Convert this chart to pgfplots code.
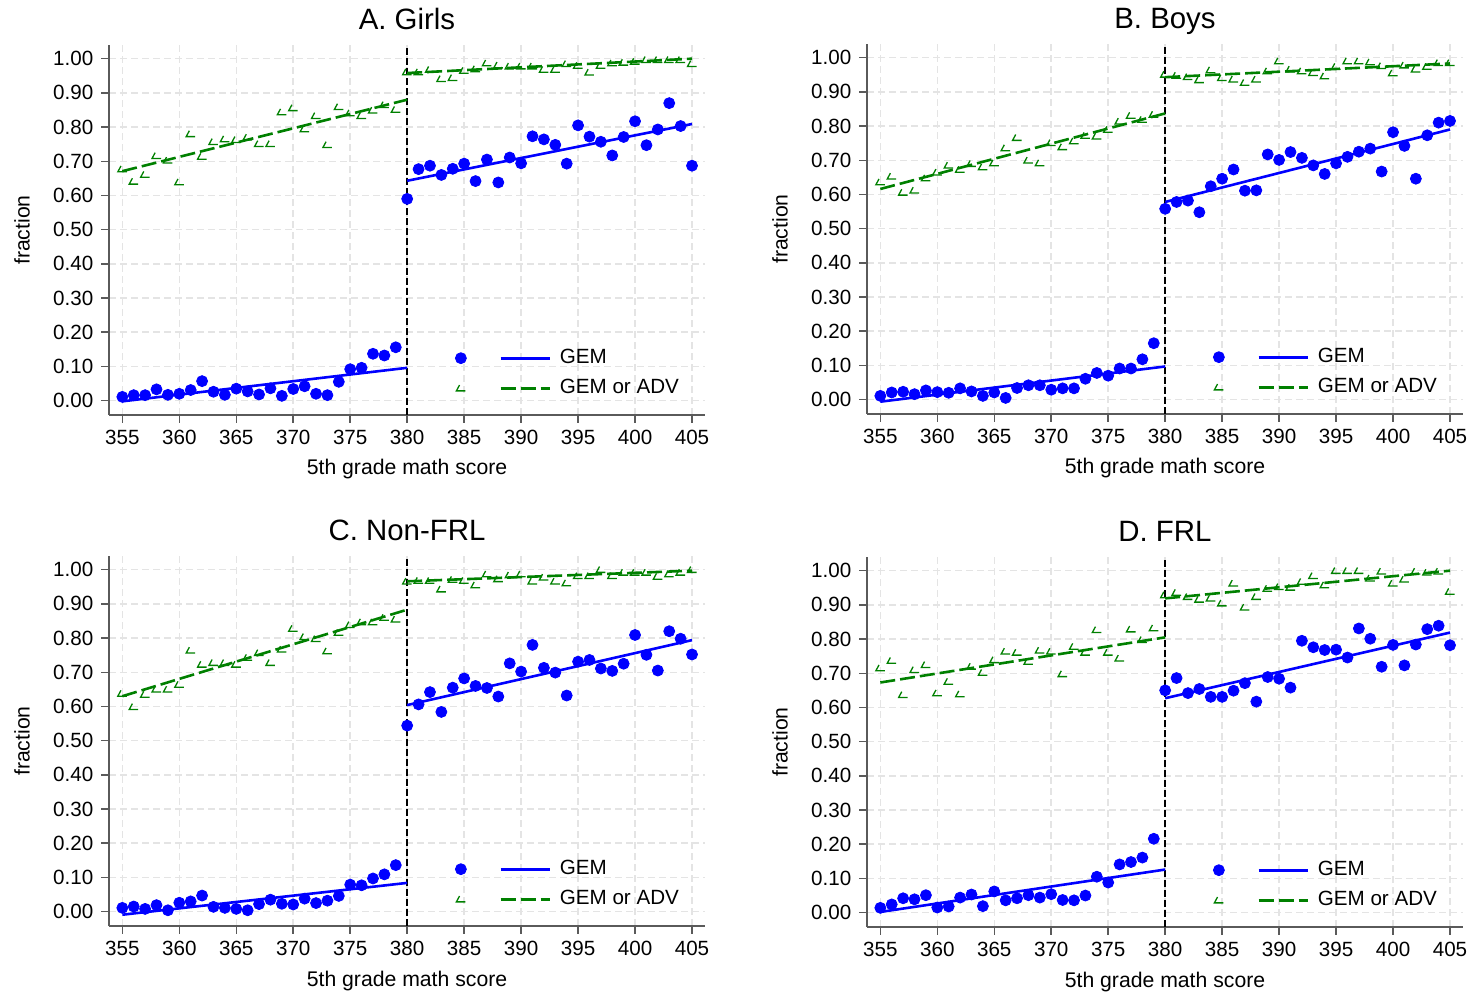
\documentclass[border=0pt]{standalone}
\usepackage{fontspec}
\setmainfont{Liberation Sans}
\usepackage{pgfplots}
\usepackage{pgfplotstable}
\pgfplotsset{compat=1.18}
\definecolor{gemgreen}{RGB}{0,128,0}
\definecolor{axgray}{RGB}{90,90,90}
\definecolor{gridgray}{RGB}{228,228,228}

\pgfdeclareplotmark{ang}{%
  \pgfpathmoveto{\pgfqpoint{-0.3\pgfplotmarksize}{0.7\pgfplotmarksize}}%
  \pgfpathlineto{\pgfqpoint{-1\pgfplotmarksize}{-0.6\pgfplotmarksize}}%
  \pgfpathlineto{\pgfqpoint{1\pgfplotmarksize}{-0.6\pgfplotmarksize}}%
  \pgfusepathqstroke}

\pgfplotstableread{
x b g
355 0.011 0.677
356 0.016 0.641
357 0.016 0.661
358 0.033 0.716
359 0.017 0.703
360 0.020 0.639
361 0.031 0.780
362 0.057 0.714
363 0.026 0.757
364 0.017 0.765
365 0.035 0.763
366 0.027 0.770
367 0.018 0.751
368 0.036 0.751
369 0.014 0.844
370 0.034 0.856
371 0.042 0.794
372 0.020 0.833
373 0.016 0.748
374 0.055 0.859
375 0.092 0.841
376 0.096 0.833
377 0.137 0.849
378 0.132 0.865
379 0.156 0.851
380 0.590 0.961
381 0.677 0.961
382 0.687 0.968
383 0.660 0.941
384 0.678 0.944
385 0.693 0.965
386 0.642 0.970
387 0.705 0.987
388 0.638 0.981
389 0.711 0.978
390 0.694 0.978
391 0.773 0.978
392 0.764 0.968
393 0.748 0.968
394 0.693 0.985
395 0.805 0.980
396 0.772 0.960
397 0.757 0.980
398 0.717 0.987
399 0.771 0.989
400 0.817 0.992
401 0.747 0.997
402 0.793 0.997
403 0.870 0.997
404 0.803 0.997
405 0.687 0.985
}\tabA

\pgfplotstableread{
x b g
355 0.011 0.636
356 0.021 0.653
357 0.023 0.606
358 0.016 0.612
359 0.027 0.648
360 0.022 0.665
361 0.020 0.685
362 0.033 0.673
363 0.024 0.690
364 0.011 0.680
365 0.021 0.692
366 0.005 0.736
367 0.034 0.766
368 0.042 0.700
369 0.042 0.692
370 0.029 0.751
371 0.033 0.739
372 0.033 0.756
373 0.061 0.772
374 0.078 0.770
375 0.070 0.790
376 0.091 0.814
377 0.091 0.831
378 0.118 0.819
379 0.165 0.834
380 0.558 0.951
381 0.578 0.948
382 0.582 0.944
383 0.548 0.935
384 0.624 0.964
385 0.646 0.941
386 0.673 0.937
387 0.611 0.927
388 0.612 0.937
389 0.717 0.961
390 0.701 0.990
391 0.724 0.966
392 0.707 0.961
393 0.685 0.956
394 0.660 0.946
395 0.691 0.974
396 0.710 0.990
397 0.725 0.990
398 0.734 0.987
399 0.667 0.976
400 0.782 0.955
401 0.742 0.978
402 0.646 0.966
403 0.773 0.974
404 0.810 0.985
405 0.815 0.985
}\tabB

\pgfplotstableread{
x b g
355 0.011 0.638
356 0.015 0.599
357 0.008 0.635
358 0.019 0.650
359 0.004 0.650
360 0.026 0.664
361 0.030 0.764
362 0.047 0.723
363 0.014 0.728
364 0.011 0.728
365 0.008 0.723
366 0.004 0.743
367 0.022 0.757
368 0.035 0.728
369 0.023 0.767
370 0.021 0.828
371 0.038 0.804
372 0.025 0.798
373 0.032 0.762
374 0.046 0.816
375 0.079 0.839
376 0.077 0.847
377 0.097 0.847
378 0.109 0.860
379 0.136 0.855
380 0.544 0.966
381 0.606 0.968
382 0.642 0.968
383 0.584 0.943
384 0.655 0.971
385 0.682 0.968
386 0.660 0.955
387 0.654 0.987
388 0.629 0.973
389 0.726 0.984
390 0.702 0.987
391 0.780 0.966
392 0.713 0.978
393 0.699 0.966
394 0.632 0.961
395 0.731 0.982
396 0.736 0.982
397 0.711 1.000
398 0.704 0.982
399 0.725 0.992
400 0.809 0.992
401 0.751 0.992
402 0.705 0.980
403 0.820 0.987
404 0.798 0.992
405 0.752 1.000
}\tabC

\pgfplotstableread{
x b g
355 0.014 0.715
356 0.024 0.737
357 0.042 0.637
358 0.039 0.710
359 0.051 0.725
360 0.015 0.642
361 0.018 0.676
362 0.044 0.639
363 0.053 0.720
364 0.019 0.702
365 0.062 0.739
366 0.036 0.764
367 0.042 0.761
368 0.051 0.734
369 0.044 0.767
370 0.054 0.764
371 0.037 0.698
372 0.036 0.778
373 0.050 0.761
374 0.105 0.827
375 0.088 0.761
376 0.141 0.744
377 0.148 0.829
378 0.161 0.798
379 0.216 0.832
380 0.650 0.929
381 0.686 0.936
382 0.642 0.924
383 0.654 0.916
384 0.631 0.919
385 0.631 0.905
386 0.649 0.963
387 0.671 0.893
388 0.617 0.924
389 0.689 0.948
390 0.684 0.953
391 0.658 0.951
392 0.795 0.968
393 0.776 0.985
394 0.768 0.958
395 0.769 1.000
396 0.746 1.000
397 0.831 1.000
398 0.801 0.978
399 0.719 0.998
400 0.783 0.963
401 0.723 0.975
402 0.784 0.998
403 0.829 0.995
404 0.839 0.998
405 0.782 0.939
}\tabD

\pgfplotsset{
  panel/.style={
    width=298pt, height=185pt, scale only axis,
    xmin=353.83, xmax=406.14, ymin=-0.042, ymax=1.04,
    axis x line*=bottom, axis y line*=left,
    axis line style={-, draw=axgray, line width=0.75pt},
    every tick/.style={draw=axgray, line width=0.75pt},
    tick align=outside, major tick length=3.8pt,
    xtick={355,360,365,370,375,380,385,390,395,400,405},
    ytick={0,0.1,0.2,0.3,0.4,0.5,0.6,0.7,0.8,0.9,1.0},
    /pgf/number format/assume math mode=true,
    yticklabel style={/pgf/number format/fixed, /pgf/number format/fixed zerofill, /pgf/number format/precision=2, xshift=-0.5pt},
    xticklabel style={/pgf/number format/1000 sep={}},
    tick label style={font=\fontsize{10.3}{12}\selectfont},
    grid=major,
    major grid style={draw=gridgray, dash pattern=on 3.5pt off 2pt, line width=0.75pt},
    every axis title/.style={at={(axis description cs:0.5,1)}, anchor=base, yshift=7.5pt, font=\fontsize{14.7}{17}\selectfont},
    every axis x label/.style={at={(axis description cs:0.5,0)}, anchor=base, yshift=-30pt, font=\fontsize{10.6}{12}\selectfont},
    every axis y label/.style={at={(axis description cs:-0.146,0.5)}, anchor=center, rotate=90, font=\fontsize{10.6}{12}\selectfont},
    xlabel={5th grade math score}, ylabel={fraction},
    clip mode=individual,
    legend columns=2,
    legend cell align=left,
    legend style={draw=none, fill=none, inner sep=0pt, at={(0.579,0.113)}, anchor=west,
      font=\fontsize{10.3}{12}\selectfont, column sep=0pt, row sep=1.5pt,
      nodes={inner sep=2pt, text height=7.5pt, text depth=2pt}},
  },
  bdots/.style={only marks, mark=*, mark size=2.75pt, color=blue,
    legend image code/.code={\path (-3pt,0pt) (3pt,0pt); \draw[##1] plot coordinates {(0pt,0pt)};}},
  gmarks/.style={only marks, mark=ang, mark size=2.25pt, color=gemgreen, mark options={line width=0.65pt, solid},
    legend image code/.code={\path (-3pt,0pt) (3pt,0pt); \draw[##1] plot coordinates {(0pt,0pt)};}},
  bline/.style={color=blue, line width=1.3pt, no markers,
    legend image code/.code={\path (-12pt,0pt) (27pt,0pt); \draw[blue, line width=1.4pt] (0pt,0pt) -- (24.5pt,0pt);}},
  gline/.style={color=gemgreen, line width=1.3pt, no markers, dash pattern=on 7.5pt off 2.5pt,
    legend image code/.code={\path (-12pt,0pt) (27pt,0pt); \draw[gemgreen, line width=1.4pt, dash pattern=on 7.5pt off 2.5pt] (0pt,0pt) -- (24.5pt,0pt);}},
  cutline/.style={black, line width=0.8pt, dash pattern=on 3.5pt off 1.5pt, forget plot, no markers},
}

\begin{document}
\begin{tikzpicture}
\path[use as bounding box] (0pt,0pt) rectangle (737pt,496pt);

% Panel A
\begin{axis}[panel, at={(54.5pt,288.5pt)}, anchor=south west, title={A. Girls}]
\addplot[cutline] coordinates {(380,-0.042) (380,1.04)};
\addplot[bdots] table[x=x,y=b] {\tabA};
\addlegendentry{\hbox{}}
\addplot[bline] coordinates {(355,-0.002) (380,0.096)};
\addlegendentry{GEM}
\addplot[bline, forget plot] coordinates {(380,0.643) (405,0.809)};
\addplot[gmarks] table[x=x,y=g] {\tabA};
\addlegendentry{\hbox{}}
\addplot[gline] coordinates {(355,0.671) (380,0.880)};
\addlegendentry{GEM or ADV}
\addplot[gline, forget plot] coordinates {(380,0.958) (405,1.0)};
\end{axis}

% Panel B
\begin{axis}[panel, at={(433.5pt,289pt)}, anchor=south west, title={B. Boys}]
\addplot[cutline] coordinates {(380,-0.042) (380,1.04)};
\addplot[bdots] table[x=x,y=b] {\tabB};
\addlegendentry{\hbox{}}
\addplot[bline] coordinates {(355,-0.006) (380,0.097)};
\addlegendentry{GEM}
\addplot[bline, forget plot] coordinates {(380,0.578) (405,0.790)};
\addplot[gmarks] table[x=x,y=g] {\tabB};
\addlegendentry{\hbox{}}
\addplot[gline] coordinates {(355,0.616) (380,0.837)};
\addlegendentry{GEM or ADV}
\addplot[gline, forget plot] coordinates {(380,0.943) (405,0.983)};
\end{axis}

% Panel C
\begin{axis}[panel, at={(54.5pt,33pt)}, anchor=south west, title={C. Non-FRL}]
\addplot[cutline] coordinates {(380,-0.042) (380,1.04)};
\addplot[bdots] table[x=x,y=b] {\tabC};
\addlegendentry{\hbox{}}
\addplot[bline] coordinates {(355,-0.009) (380,0.084)};
\addlegendentry{GEM}
\addplot[bline, forget plot] coordinates {(380,0.604) (405,0.794)};
\addplot[gmarks] table[x=x,y=g] {\tabC};
\addlegendentry{\hbox{}}
\addplot[gline] coordinates {(355,0.630) (380,0.883)};
\addlegendentry{GEM or ADV}
\addplot[gline, forget plot] coordinates {(380,0.966) (405,0.997)};
\end{axis}

% Panel D
\begin{axis}[panel, at={(433.5pt,32.5pt)}, anchor=south west, title={D. FRL}]
\addplot[cutline] coordinates {(380,-0.042) (380,1.04)};
\addplot[bdots] table[x=x,y=b] {\tabD};
\addlegendentry{\hbox{}}
\addplot[bline] coordinates {(355,0.002) (380,0.126)};
\addlegendentry{GEM}
\addplot[bline, forget plot] coordinates {(380,0.627) (405,0.819)};
\addplot[gmarks] table[x=x,y=g] {\tabD};
\addlegendentry{\hbox{}}
\addplot[gline] coordinates {(355,0.673) (380,0.805)};
\addlegendentry{GEM or ADV}
\addplot[gline, forget plot] coordinates {(380,0.919) (405,1.0)};
\end{axis}
\end{tikzpicture}
\end{document}
